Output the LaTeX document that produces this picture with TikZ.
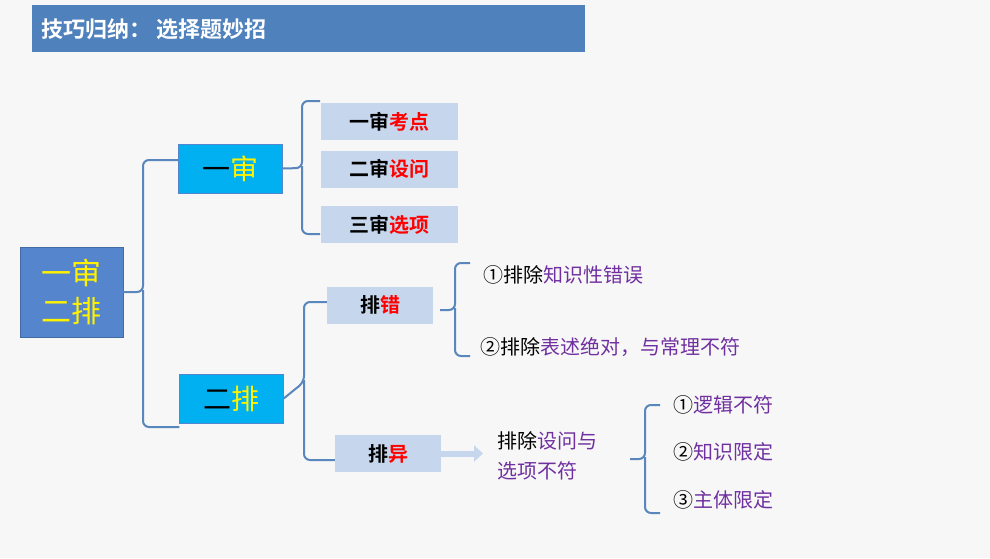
\documentclass[tikz,border=0pt]{standalone}
\usepackage{fontspec}
\usepackage{xcolor}
\newfontfamily\cjk{Noto Sans CJK SC}
\newfontfamily\cjkb{Noto Sans CJK SC}[BoldFont={* Bold}]
\usetikzlibrary{arrows.meta}
\definecolor{titleblue}{HTML}{4F81BD}
\definecolor{mainblue}{HTML}{5585CC}
\definecolor{skyblue}{HTML}{00B0F0}
\definecolor{paleblue}{HTML}{C6D6EC}
\definecolor{linkblue}{HTML}{5A86BE}
\definecolor{txtpurple}{HTML}{7030A0}
\tikzstyle{node:main}=[fill=mainblue,draw=mainblue!80!black,minimum width=103pt,minimum height=90pt,inner sep=0pt,align=left,font=\cjk\fontsize{30}{38}\selectfont,text=yellow]
\tikzstyle{node:level}=[fill=skyblue,draw=mainblue,minimum width=104pt,minimum height=49pt,inner sep=0pt,font=\cjk\fontsize{28}{32}\selectfont]
\tikzstyle{node:leaf}=[fill=paleblue,minimum width=137pt,minimum height=37pt,inner sep=0pt,font=\cjkb\bfseries\fontsize{20}{24}\selectfont]
\tikzstyle{node:small}=[fill=paleblue,minimum width=106pt,minimum height=37pt,inner sep=0pt,font=\cjkb\bfseries\fontsize{20}{24}\selectfont]
\tikzstyle{node:text}=[anchor=west,inner sep=0pt,font=\cjk\fontsize{20}{30}\selectfont]
\tikzstyle{draw:brace}=[linkblue,line width=2pt,rounded corners=6pt]
\begin{document}
\begin{tikzpicture}[x=1pt,y=-1pt]
        \useasboundingbox[fill=gray!6] (0,0) rectangle (990,558);

        % Title bar
        \node[fill=titleblue,minimum width=553pt,minimum height=47pt,anchor=north west,inner sep=0pt] (title) at (32,5) {};
        \node[anchor=west,text=white,font=\cjkb\bfseries\fontsize{22}{26}\selectfont] (titletext) at (38,29) {技巧归纳：\ 选择题妙招};

        % Main nodes
        \node[node:main] (N0) at (71.5,292) {一审\\二排};
        \node[node:level] (N1-1) at (230,168.5) {一\textcolor{yellow}{审}};
        \node[node:level] (N1-2) at (231.5,398.5) {二\textcolor{yellow}{排}};

        % Level two
        \node[node:leaf] (N2-1) at (389.5,121.5) {一审\textcolor{red}{考点}};
        \node[node:leaf] (N2-2) at (389.5,169) {二审\textcolor{red}{设问}};
        \node[node:leaf] (N2-3) at (389.5,224.5) {三审\textcolor{red}{选项}};
        \node[node:small] (N2-4) at (380,305) {排\textcolor{red}{错}};
        \node[node:small] (N2-5) at (388,453.5) {排\textcolor{red}{异}};

        % Texts
        \node[node:text] (T1) at (483,275) {①排除\textcolor{txtpurple}{知识性错误}};
        \node[node:text] (T2) at (480,347) {②排除\textcolor{txtpurple}{表述绝对，与常理不符}};
        \node[node:text,align=left] (T3) at (497,456) {排除\textcolor{txtpurple}{设问与}\\\textcolor{txtpurple}{选项不符}};
        \node[node:text] (T4) at (673,405) {①\textcolor{txtpurple}{逻辑不符}};
        \node[node:text] (T5) at (673,452) {②\textcolor{txtpurple}{知识限定}};
        \node[node:text] (T6) at (673,500) {③\textcolor{txtpurple}{主体限定}};

        % Braces
        \draw[draw:brace] (N0.east) -- (143,292) -- (143,160) -- (N1-1.west|-0,160);
        \draw[draw:brace] (143,290) -- (143,427) -- (N1-2.west|-0,427);
        \draw[draw:brace] (N1-1.east) -- (302,168) -- (302,101) -- (320,101);
        \draw[draw:brace] (302,166) -- (302,234) -- (320,234);
        \draw[draw:brace] (N1-2.east) -- (304,382) -- (304,302) -- (N2-4.west|-0,302);
        \draw[draw:brace] (304,380) -- (304,460) -- (N2-5.west|-0,460);
        \draw[draw:brace] (440,310) -- (455,310) -- (455,263) -- (470,263);
        \draw[draw:brace] (455,308) -- (455,356) -- (470,356);
        \draw[draw:brace] (630,459) -- (645,459) -- (645,405) -- (660,405);
        \draw[draw:brace] (645,457) -- (645,513) -- (660,513);

        % Arrow
        \draw[paleblue,line width=6pt,-{Triangle[length=9pt,width=16pt]}] (N2-5.east) -- (483,453.5);
    \end{tikzpicture}
\end{document}
